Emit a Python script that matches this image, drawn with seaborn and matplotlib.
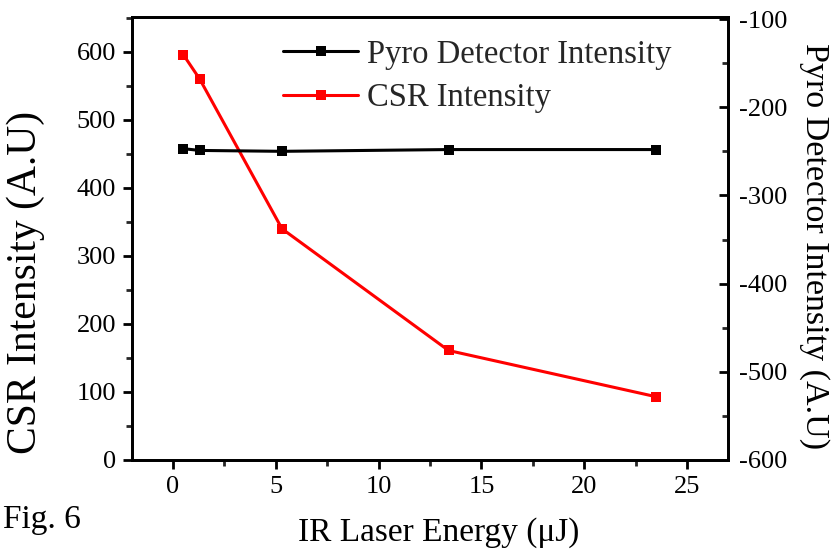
import matplotlib
matplotlib.use("Agg")
import matplotlib.pyplot as plt
import seaborn as sns
import pandas as pd
from matplotlib.ticker import MultipleLocator, FuncFormatter

sns.set_theme(style="white")
plt.rcParams['font.family'] = ['Liberation Serif', 'DejaVu Serif']

# Data
energy = [0.5, 1.3, 5.3, 13.4, 23.5]
csr_intensity = [596, 560, 340, 161, 93]
pyro_intensity = [-247, -249, -250, -248, -248]

csr_label = "CSR Intensity"
pyro_label = "Pyro Detector Intensity"

df_csr = pd.DataFrame({"energy": energy, "value": csr_intensity})
df_pyro = pd.DataFrame({"energy": energy, "value": pyro_intensity})

fig = plt.figure(figsize=(8.35, 5.52), dpi=100)
ax = fig.add_axes([0.158, 0.1667, 0.714, 0.802])
ax2 = ax.twinx()

sns.lineplot(data=df_csr, x="energy", y="value", ax=ax, color="#ff0000",
             marker="s", markersize=6.5, markeredgewidth=0, linewidth=2.2,
             label=csr_label, legend=False)
sns.lineplot(data=df_pyro, x="energy", y="value", ax=ax2, color="black",
             marker="s", markersize=6.5, markeredgewidth=0, linewidth=2.2,
             label=pyro_label, legend=False)

ax.set_xlim(-2, 27)
ax.set_ylim(0, 651)
ax2.set_ylim(-600, -98)

ax.xaxis.set_major_locator(MultipleLocator(5))
ax.xaxis.set_minor_locator(MultipleLocator(2.5))
ax.yaxis.set_major_locator(MultipleLocator(100))
ax.yaxis.set_minor_locator(MultipleLocator(50))
ax2.yaxis.set_major_locator(MultipleLocator(100))
ax2.yaxis.set_minor_locator(MultipleLocator(50))

for a in (ax, ax2):
    for s in a.spines.values():
        s.set_color("black")
        s.set_linewidth(2.0)

ax.tick_params(axis="both", which="major", direction="out", length=6.5, width=2,
               labelsize=19, colors="black", left=True, bottom=True, pad=5)
ax.tick_params(axis="both", which="minor", direction="out", length=4, width=2,
               left=True, bottom=True)
ax2.tick_params(axis="y", which="major", direction="in", length=6.5, width=2,
                labelsize=19, colors="black", right=True, pad=8)
ax2.tick_params(axis="y", which="minor", direction="in", length=4, width=2, right=True)

ax2.yaxis.set_major_formatter(FuncFormatter(lambda v, p: f"{int(v)}"))

ax.set_xlabel("IR Laser Energy (μJ)", fontsize=24, color="black")
ax.xaxis.set_label_coords(0.515, -0.13)
ax.set_ylabel("CSR Intensity (A.U)", fontsize=30, color="black")
ax.yaxis.set_label_coords(-0.146, 0.40)
ax2.set_ylabel("Pyro Detector Intensity (A.U)", fontsize=24.5, color="black",
               rotation=-90)
ax2.yaxis.set_label_coords(1.171, 0.483)

handles = ax2.get_lines()[:1] + ax.get_lines()[:1]
labels = [pyro_label, csr_label]
ax.legend(handles, labels, loc="upper left",
          bbox_to_anchor=(283 / 835, 1 - 39 / 552), bbox_transform=fig.transFigure,
          frameon=False, fontsize=23.5, handlelength=2.3, handletextpad=0.28,
          labelspacing=0.4, borderpad=0, borderaxespad=0)

fig.text(3 / 835, 1 - 528 / 552, "Fig. 6", fontsize=24, color="black",
         va="baseline", ha="left")

fig.savefig("out.png", dpi=100)
